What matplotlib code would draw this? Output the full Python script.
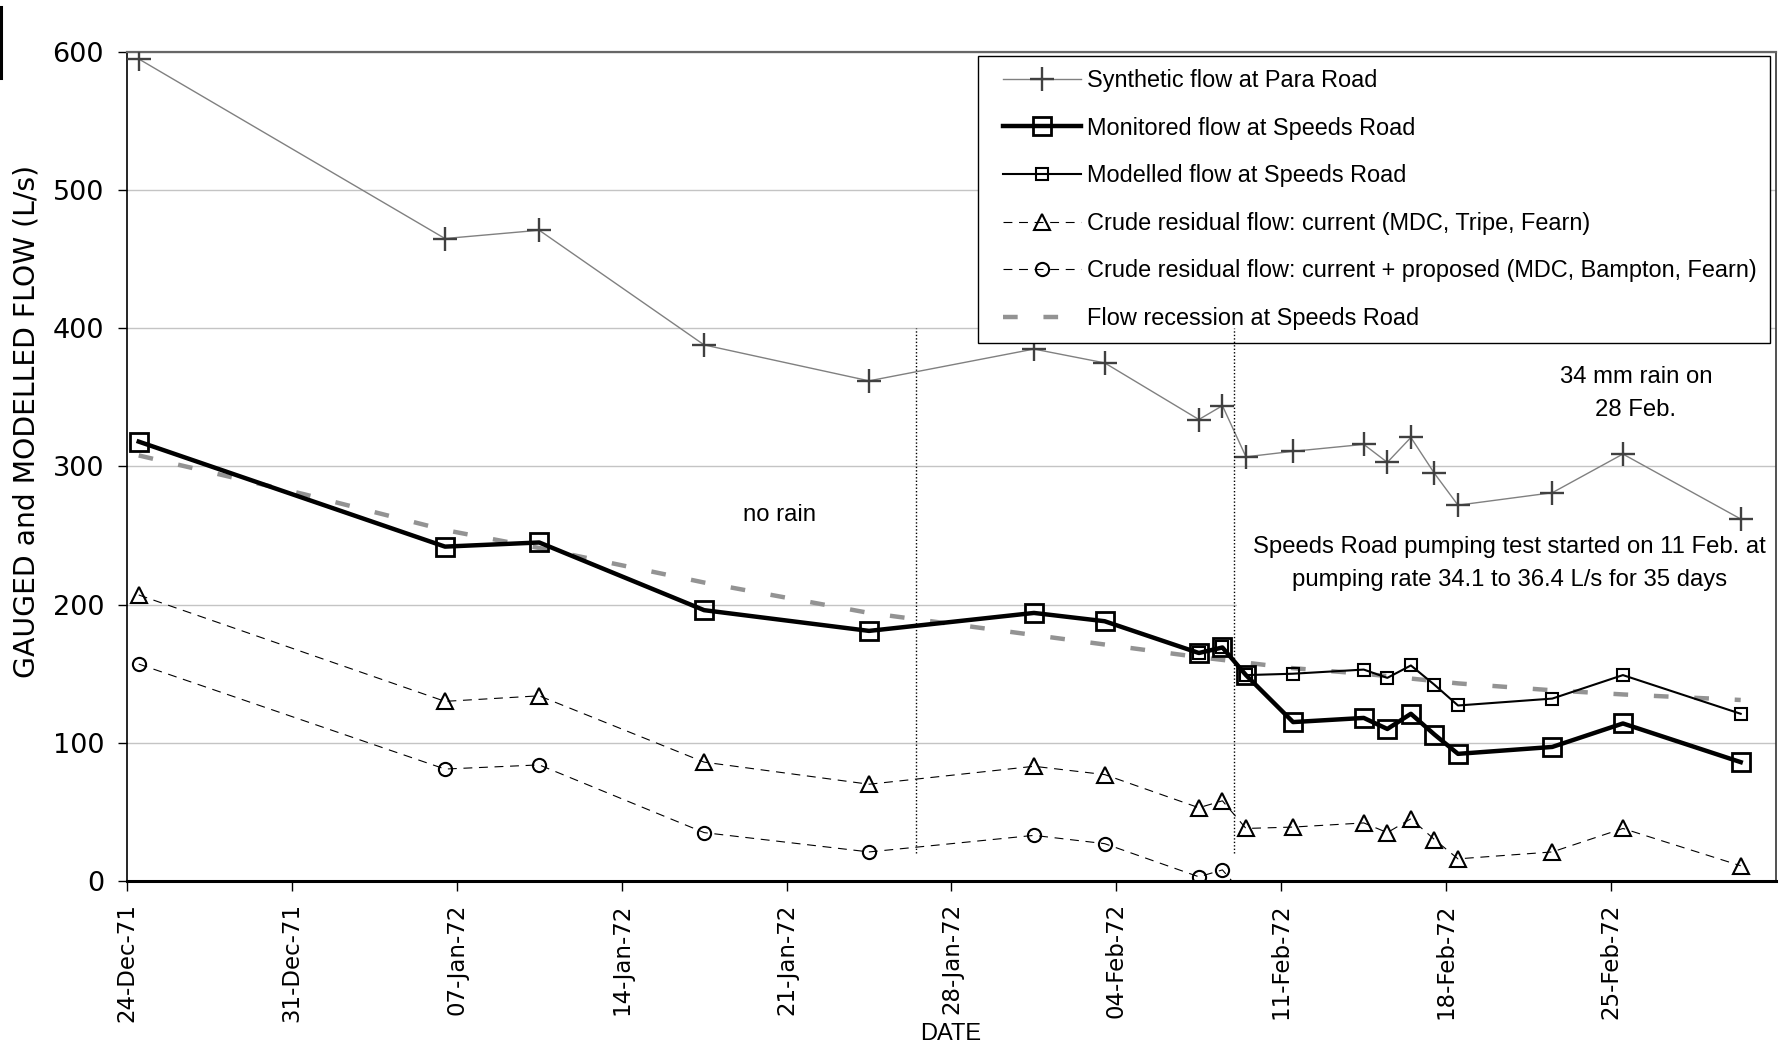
import matplotlib
matplotlib.use("Agg")
import matplotlib.pyplot as plt
import matplotlib.dates as mdates
from matplotlib.lines import Line2D
from matplotlib.legend_handler import HandlerLine2D
import pandas as pd

# gauging dates (readings taken around midday)
dates = ["1971-12-24", "1972-01-06", "1972-01-10", "1972-01-17", "1972-01-24",
         "1972-01-31", "1972-02-03", "1972-02-07", "1972-02-08", "1972-02-09",
         "1972-02-11", "1972-02-14", "1972-02-15", "1972-02-16", "1972-02-17",
         "1972-02-18", "1972-02-22", "1972-02-25", "1972-03-01"]

synthetic_para = [595, 465, 471, 388, 362, 385, 375, 334, 344, 307,
                  311, 316, 303, 321, 295, 272, 281, 309, 262]
monitored_speeds = [318, 242, 245, 196, 181, 194, 188, 165, 169, 149,
                    115, 118, 110, 121, 106, 92, 97, 114, 86]
modelled_dates = dates[7:]
modelled_speeds = [165, 169, 149, 150, 153, 147, 156, 142, 127, 132, 149, 121]
residual_current = [207, 130, 134, 86, 70, 83, 77, 53, 58, 38,
                    39, 42, 35, 45, 30, 16, 21, 38, 11]
proposed_dates = dates[:10]
residual_proposed = [157, 81, 84, 35, 21, 33, 27, 3, 8, -12]

recession_dates = ["1971-12-24", "1971-12-31", "1972-01-06", "1972-01-10",
                   "1972-01-17", "1972-01-24", "1972-01-31", "1972-02-07",
                   "1972-02-11", "1972-02-14", "1972-02-18", "1972-02-22",
                   "1972-02-25", "1972-03-01"]
recession_speeds = [308, 280, 254, 241, 216, 194, 178, 162, 154, 150, 143, 138, 135, 131]

marker_dates = ["1972-01-26 12:00", "1972-02-09 00:00"]

week_ticks = pd.date_range("1971-12-24", "1972-02-25", freq="7D")


def noon(d):
    return pd.to_datetime(d) + pd.Timedelta(hours=12)


fig = plt.figure(figsize=(17.83, 10.49), dpi=100)
ax = fig.add_axes([0.0712, 0.1602, 0.9249, 0.7902])

ax.plot(noon(dates), synthetic_para, color="#808080", lw=1.0, marker="+", ms=17,
        mec="#404040", mew=1.7, label="Synthetic flow at Para Road", zorder=4)
ax.plot(noon(dates), monitored_speeds, color="black", lw=3.2, marker="s", ms=13,
        mfc="none", mec="black", mew=2.0, label="Monitored flow at Speeds Road", zorder=5)
ax.plot(noon(modelled_dates), modelled_speeds, color="black", lw=1.5, marker="s", ms=8.5,
        mfc="none", mec="black", mew=1.5, label="Modelled flow at Speeds Road", zorder=5)
ax.plot(noon(dates), residual_current, color="black", lw=0.8, ls=(0, (8, 6)),
        marker="^", ms=11, mfc="none", mec="black", mew=1.5,
        label="Crude residual flow: current (MDC, Tripe, Fearn)", zorder=4)
ax.plot(noon(proposed_dates), residual_proposed, color="black", lw=0.8, ls=(0, (8, 6)),
        marker="o", ms=9.5, mfc="none", mec="black", mew=1.5,
        label="Crude residual flow: current + proposed (MDC, Bampton, Fearn)", zorder=4)
ax.plot(noon(recession_dates), recession_speeds, color="#939393", lw=3.2,
        ls=(0, (3.3, 5.8)), label="Flow recession at Speeds Road", zorder=3)

# start of dry spell and start of pumping test
ax.vlines(pd.to_datetime(marker_dates), 20, 400, colors="black", lw=1.0,
          linestyles=(0, (1, 1.5)), zorder=6)

ax.set_xlim(pd.Timestamp("1971-12-24"), pd.Timestamp("1972-03-03"))
ax.set_ylim(0, 600)
ax.set_yticks(range(0, 601, 100))
ax.set_xticks(week_ticks)
ax.xaxis.set_major_formatter(mdates.DateFormatter("%d-%b-%y"))
ax.tick_params(axis="x", direction="out", length=7, width=1, pad=9,
               labelsize=16.5, labelrotation=90)
ax.tick_params(axis="y", direction="out", length=6.5, width=1, pad=10, labelsize=19.5)
for lab in ax.get_xticklabels() + ax.get_yticklabels():
    lab.set_family("DejaVu Sans")

ax.set_axisbelow(True)
ax.yaxis.grid(True, color="#c4c4c4", lw=1.0)
ax.spines["top"].set_color("#666666")
ax.spines["top"].set_linewidth(1.6)
ax.spines["right"].set_color("#333333")
ax.spines["right"].set_linewidth(1.2)
ax.spines["left"].set_linewidth(1.2)
ax.spines["bottom"].set_linewidth(2.2)

fig.text(27 / 1783, 1 - 421 / 1049, "GAUGED and MODELLED FLOW (L/s)", rotation=90,
         ha="center", va="center", fontsize=20.3, family="DejaVu Sans")
fig.text(951 / 1783, 1 - 1034 / 1049, "DATE", ha="center", va="center",
         fontsize=17, family="Liberation Sans")

note_font = dict(fontsize=17.2, family="Liberation Sans", ha="center", va="center")
ax.text(0.396, 0.4415, "no rain", transform=ax.transAxes, **note_font)
ax.text(0.915, 0.588, "34 mm rain on\n28 Feb.", transform=ax.transAxes,
        linespacing=1.6, **note_font)
ax.text(0.8385, 0.383, "Speeds Road pumping test started on 11 Feb. at\n"
        "pumping rate 34.1 to 36.4 L/s for 35 days", transform=ax.transAxes,
        linespacing=1.6, zorder=2.5,
        bbox=dict(facecolor="white", edgecolor="none", boxstyle="square,pad=0.7"),
        **note_font)

leg = ax.legend(loc="upper left", bbox_to_anchor=(978 / 1783, 1 - 56 / 1049),
                bbox_transform=fig.transFigure, borderaxespad=0, numpoints=1,
                prop={"family": "Liberation Sans", "size": 16.9},
                handler_map={Line2D: HandlerLine2D(xpad=0.5)},
                handlelength=3.85, handletextpad=0.25, labelspacing=1.05,
                borderpad=0.55, fancybox=False, framealpha=1, edgecolor="black")
leg.get_frame().set_linewidth(1.0)

# stray rule at the top-left corner of the page
fig.add_artist(Line2D([1.5 / 1783, 1.5 / 1783], [1 - 7 / 1049, 1 - 78 / 1049],
                      color="black", lw=2.2))

fig.savefig("out.png", dpi=100)
